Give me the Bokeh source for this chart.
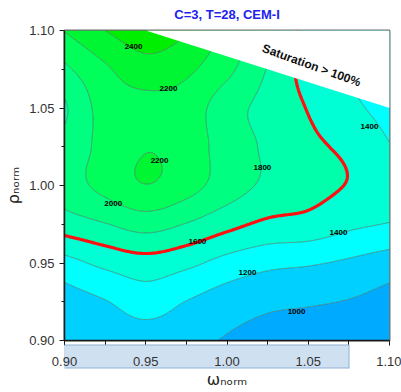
import numpy as np
from bokeh.plotting import figure
from bokeh.models import Range1d, FixedTicker, LinearAxis, Label, ColumnDataSource, NumeralTickFormatter
from bokeh.embed import file_html
from bokeh.resources import INLINE
from bokeh.core.properties import value

# ---------------- data ----------------
omega_grid = [0.900, 0.925, 0.950, 0.975, 1.000, 1.025, 1.050, 1.075, 1.100]
rho_grid = [0.900, 0.925, 0.950, 0.975, 1.000, 1.025, 1.050, 1.075, 1.100]
row_rho_0900 = [1060, 1090, 1100, 1080, 980, 930, 900, 870, 850]
row_rho_0925 = [1110, 1190, 1290, 1195, 1100, 1040, 1020, 990, 930]
row_rho_0950 = [1330, 1450, 1520, 1450, 1330, 1250, 1220, 1170, 1100]
row_rho_0975 = [1700, 1790, 1880, 1790, 1660, 1560, 1530, 1440, 1390]
row_rho_1000 = [1900, 2060, 2195, 2080, 1900, 1760, 1670, 1590, 1510]
row_rho_1025 = [1870, 2060, 2192, 2120, 1900, 1770, 1640, 1560, 1410]
row_rho_1050 = [1775, 2080, 2130, 2110, 1880, 1740, 1590, 1450, 1330]
row_rho_1075 = [1960, 2170, 2320, 2240, 2050, 1790, 1520, 1380, 1280]
row_rho_1100 = [2210, 2400, 2520, 2420, 2150, 1900, 1500, 1350, 1250]

levels = [800, 1000, 1200, 1400, 1600, 1800, 2000, 2200, 2400, 2700]
band_colors = ["#00aaff", "#00d0ff", "#00ffff", "#00ffd4", "#00ffaa",
               "#00ff80", "#00ff5a", "#00f532", "#00ee00"]
highlight_level = [1600]

label_text = ["2400", "2200", "2200", "2000", "1800", "1600", "1400", "1400", "1200", "1000"]
label_omega = [0.9425, 0.9640, 0.9585, 0.9300, 1.0218, 0.9818, 1.0877, 1.0686, 1.0126, 1.0428]
label_rho = [1.0897, 1.0627, 1.0164, 0.9887, 1.0113, 0.9637, 1.0383, 0.9695, 0.9437, 0.9187]

sat_omega = [0.95, 1.10, 1.10]
sat_rho = [1.10, 1.05, 1.10]

x_ticks = [0.90, 0.95, 1.00, 1.05, 1.10]
x_minor = [0.925, 0.975, 1.025, 1.075]
y_ticks = [0.90, 0.95, 1.00, 1.05, 1.10]
y_minor = [0.925, 0.975, 1.025, 1.075]

# highlighted span behind the x tick labels (in axis units)
x_highlight = (0.8920, 1.0748)

title_text = "C=3, T=28, CEM-I"
sat_text = "Saturation > 100%"
x_label = "ωₙₒᵣₘ"
y_label = "ρₙₒᵣₘ"

# ---------------- smooth (Catmull-Rom) resampling of the grid ----------------
Z0 = np.array([row_rho_0900, row_rho_0925, row_rho_0950, row_rho_0975, row_rho_1000,
               row_rho_1025, row_rho_1050, row_rho_1075, row_rho_1100], dtype=float)


def cr(grid, vals, q):
    grid = np.asarray(grid, float)
    vals = np.asarray(vals, float)
    n = len(grid)
    h = grid[1] - grid[0]
    ext = np.concatenate([[2 * vals[0] - vals[1]], vals, [2 * vals[-1] - vals[-2]]])
    t = (q - grid[0]) / h
    i = np.clip(np.floor(t).astype(int), 0, n - 2)
    s = t - i
    p0, p1, p2, p3 = ext[i], ext[i + 1], ext[i + 2], ext[i + 3]
    return 0.5 * (2 * p1 + (-p0 + p2) * s + (2 * p0 - 5 * p1 + 4 * p2 - p3) * s ** 2
                  + (-p0 + 3 * p1 - 3 * p2 + p3) * s ** 3)


xf = np.linspace(omega_grid[0], omega_grid[-1], 201)
yf = np.linspace(rho_grid[0], rho_grid[-1], 201)
Zx = np.array([cr(omega_grid, row, xf) for row in Z0])
Z = np.array([cr(rho_grid, Zx[:, j], yf) for j in range(len(xf))]).T

# ---------------- figure ----------------
p = figure(width=401, height=392, x_range=Range1d(0.9, 1.1), y_range=Range1d(0.9, 1.1),
           output_backend="svg", toolbar_location=None,
           min_border_left=64, min_border_right=12, min_border_top=29, min_border_bottom=52,
           background_fill_color="white", border_fill_color="white")
p.grid.visible = False
p.outline_line_color = "#6e6e6e"
p.outline_line_width = 2

p.title.text = title_text
p.title.align = "center"
p.title.vertical_align = "top"
p.title.text_font = "Liberation Sans"
p.title.text_font_size = "13px"
p.title.text_font_style = "bold"
p.title.text_color = "#2222ee"
p.title.standoff = 13

TICK = "#1a1a1a"
LABEL_FONT = dict(axis_label_text_font="DejaVu Sans", axis_label_text_font_size="16px",
                  axis_label_text_font_style="normal", axis_label_text_color="#222222")


def minor_only_axis(minor, out, line_color, tick_color, width=1.5, bounds="auto"):
    # an axis without major ticks (so without tick labels)
    return LinearAxis(ticker=FixedTicker(ticks=[], minor_ticks=minor), bounds=bounds,
                      major_tick_in=0, major_tick_out=out, minor_tick_in=0, minor_tick_out=out,
                      minor_tick_line_color=tick_color, minor_tick_line_width=1,
                      axis_line_color=line_color, axis_line_width=width)


# ---- bottom: ticks | spacer | highlight band | tick labels + axis label
main_x = p.xaxis[0]
p.below = [
    minor_only_axis(x_ticks + x_minor, 5, TICK, TICK),
    minor_only_axis([1.0], 11, None, None),
    minor_only_axis([1.0], 0, "#8fb0d5", None, width=24,
                    bounds=(x_highlight[0] - 0.0006, x_highlight[1] + 0.0006)),
    minor_only_axis([1.0], 0, "#cfe0f1", None, width=22, bounds=x_highlight),
    main_x,
]
main_x.ticker = FixedTicker(ticks=x_ticks)
main_x.formatter = NumeralTickFormatter(format="0.00")
main_x.major_tick_in = 0
main_x.major_tick_out = 0
main_x.minor_tick_in = 0
main_x.minor_tick_out = 0
main_x.major_tick_line_color = None
main_x.minor_tick_line_color = None
main_x.axis_line_color = None
main_x.major_label_standoff = 0
main_x.major_label_text_font = "Liberation Sans"
main_x.major_label_text_font_size = "13px"
main_x.major_label_text_color = "#333333"
main_x.axis_label = x_label
main_x.axis_label_standoff = 1
for k, v in LABEL_FONT.items():
    setattr(main_x, k, v)

# ---- left: standard axis
main_y = p.yaxis[0]
main_y.ticker = FixedTicker(ticks=y_ticks, minor_ticks=y_minor)
main_y.formatter = NumeralTickFormatter(format="0.00")
main_y.major_tick_in = 0
main_y.major_tick_out = 5
main_y.minor_tick_in = 0
main_y.minor_tick_out = 3
main_y.axis_line_color = TICK
main_y.axis_line_width = 1.5
main_y.major_tick_line_color = TICK
main_y.minor_tick_line_color = TICK
main_y.major_label_standoff = 5
main_y.major_label_text_font = "Liberation Sans"
main_y.major_label_text_font_size = "13px"
main_y.major_label_text_color = "#333333"
main_y.axis_label = y_label
main_y.axis_label_standoff = 3
for k, v in LABEL_FONT.items():
    setattr(main_y, k, v)

p.contour(x=xf, y=yf, z=Z, levels=levels, fill_color=band_colors,
          line_color="#3f6e5e", line_width=0.7, line_alpha=0.9)
p.contour(x=xf, y=yf, z=Z, levels=highlight_level, line_color="#ff1010", line_width=3.2)
p.patch(sat_omega, sat_rho, fill_color="white", line_color=None)

src = ColumnDataSource(dict(x=label_omega, y=label_rho, t=label_text))
p.text(x="x", y="y", text="t", source=src, text_font=value("Liberation Sans"),
       text_font_style="bold", text_font_size="8px", text_color="black",
       text_align="center", text_baseline="middle")

p.add_layout(Label(x=1.052, y=1.0775, text=sat_text, text_font="Liberation Sans",
                   text_font_style="bold", text_font_size="12px", text_color="#111111",
                   text_align="center", text_baseline="middle", angle=-0.345))

open("out.html", "w").write(file_html(p, INLINE))
